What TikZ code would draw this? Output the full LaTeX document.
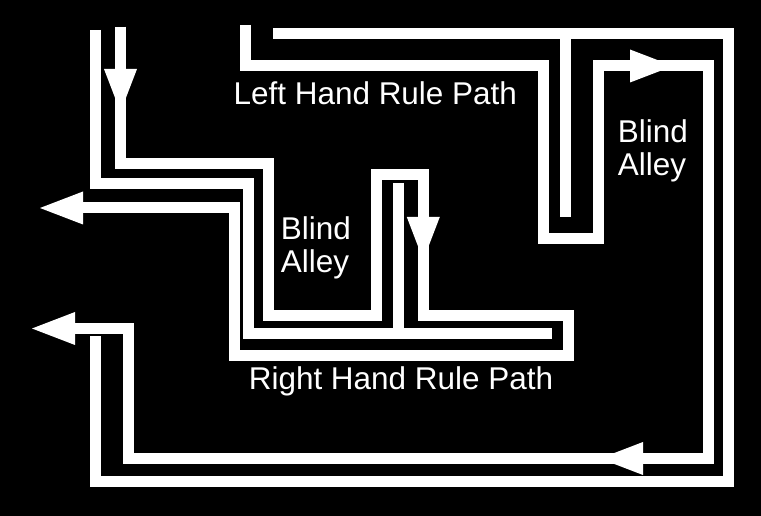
\documentclass[tikz,border=0pt]{standalone}
\usepackage{fontspec}
\setmainfont{Liberation Sans}
\usetikzlibrary{arrows.meta}
\tikzset{
  wall/.style={line width=8.25pt, draw=white},
  trail/.style={line width=8.25pt, draw=white},
  tipend/.style={-{Triangle[length=32.25pt, width=24.75pt, line width=0pt]}},
  caption/.style={text=white, inner sep=0pt, font=\fontsize{23.6}{24.75}\selectfont}
}
\begin{document}
\begin{tikzpicture}[x=0.75pt,y=-0.75pt]
\fill[black] (0,0) rectangle (761,516);
\useasboundingbox (0,0) rectangle (761,516);

% walls
\draw[wall] (95.5,30) -- (95.5,183.3) -- (248.3,183.3) -- (248.3,333.3) -- (552,333.3);
\draw[wall] (398,183) -- (398,333.3);
\draw[wall] (273.3,33.3) -- (728,33.3) -- (728,481.3) -- (95,481.3) -- (95,336.3);
\draw[wall] (565.5,33.3) -- (565.5,216.7);

% left hand rule path
\draw[trail, tipend] (245.3,25) -- (245.3,66) -- (543.3,66) -- (543.3,238.8) -- (598.7,238.8) -- (598.7,66)
  -- (708,66) -- (708,458.5) -- (128.7,458.5) -- (128.7,328.5) -- (32,328.5);
\draw[trail, tipend] (620,66) -- (673,66);
\draw[trail, tipend] (653,458.5) -- (600,458.5);

% right hand rule path
\draw[trail, tipend] (120.5,26.7) -- (120.5,163.3) -- (268,163.3) -- (268,316) -- (376.5,316) -- (376.5,174.5)
  -- (423.3,174.5) -- (423.3,315.5) -- (568,315.5) -- (568,355.6) -- (234.5,355.6) -- (234.5,208) -- (40,208);
\draw[trail, tipend] (120.5,60) -- (120.5,112);
\draw[trail, tipend] (423.3,208) -- (423.3,260);

\node[caption, anchor=base] (lhrule) at (375.3,105) {Left Hand Rule Path};
\node[caption, anchor=base] (rhrule) at (401,390) {Right Hand Rule Path};
\node[caption, align=left, anchor=base west] (blindleft) at (280.7,273) {Blind\\Alley};
\node[caption, align=left, anchor=base west] (blindright) at (617.7,176) {Blind\\Alley};
\end{tikzpicture}
\end{document}
